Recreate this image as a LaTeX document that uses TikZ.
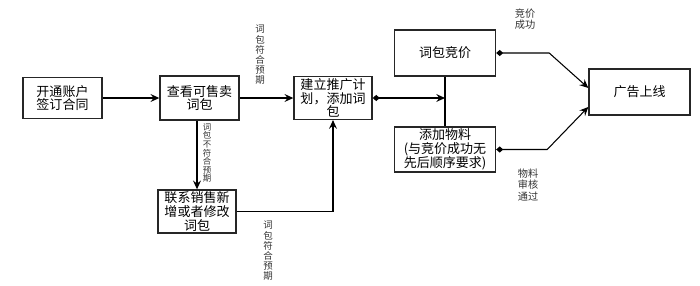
\documentclass[tikz,border=0pt]{standalone}
\usepackage{fontspec}
\setmainfont{Noto Sans CJK SC}
\usetikzlibrary{positioning,arrows.meta}

\begin{document}
\begin{tikzpicture}[x=0.02cm,y=-0.02cm,
      box/.style={rectangle,draw=black!85,line width=0.8pt,align=center,inner sep=1pt,font=\fontsize{7.4}{7.8}\selectfont},
      vlabel/.style={align=center,inner sep=0pt,text=black!80,font=\fontsize{5.4}{5.8}\selectfont},
      link/.style={line width=0.6pt,-{Stealth[length=5pt,width=4.5pt,inset=1.8pt]}},
      dlink/.style={line width=0.6pt,{Diamond[length=4pt,width=3.5pt]}-{Stealth[length=5pt,width=4.5pt,inset=1.8pt]}}]
      \useasboundingbox (0,0) rectangle (700,285);
      \node[box,minimum width=1.58cm,minimum height=0.82cm] (open) at (62.5,98) {开通账户\\签订合同};
      \node[box,minimum width=1.58cm,minimum height=0.88cm] (view) at (199.5,98) {查看可售卖\\词包};
      \node[box,minimum width=1.56cm,minimum height=0.82cm] (plan) at (333,98) {建立推广计\\划，添加词\\包};
      \node[box,minimum width=1.56cm,minimum height=0.86cm] (sales) at (197,211.5) {联系销售新\\增或者修改\\词包};
      \node[box,minimum width=2.02cm,minimum height=0.92cm] (bid) at (445,53) {词包竞价};
      \node[box,minimum width=2.02cm,minimum height=0.90cm] (material) at (445,149.5) {添加物料\\(与竞价成功无\\先后顺序要求)};
      \node[box,minimum width=2.02cm,minimum height=0.92cm] (online) at (639.5,92) {广告上线};
      \node[vlabel] (ok1) at (260,55) {词\\包\\符\\合\\预\\期};
      \node[vlabel,font=\fontsize{4.8}{4.9}\selectfont] (nok) at (207,153) {词\\包\\不\\符\\合\\预\\期};
      \node[vlabel] (ok2) at (268,251) {词\\包\\符\\合\\预\\期};
      \node[vlabel,font=\fontsize{5.8}{6.2}\selectfont] (won) at (525,19) {竞价\\成功};
      \node[vlabel,font=\fontsize{5.8}{6.4}\selectfont] (passed) at (528,185) {物料\\审核\\通过};
      \draw[link] (open) -- (view);
      \draw[link] (view) -- (plan);
      \draw[link] (view.south -| sales.north) -- (sales.north);
      \draw[link] (sales.east) -| (plan.south);
      \draw[line width=0.6pt] (bid.south) -- (material.north);
      \draw[dlink] (plan.east) -- (plan.east -| bid.south);
      \draw[dlink] (bid.east) -- ++(53,0) -- ([yshift=2.3pt]online.west);
      \draw[dlink] (material.east) -- ++(51,0) -- ([yshift=-8.5pt]online.west);
    \end{tikzpicture}
\end{document}
